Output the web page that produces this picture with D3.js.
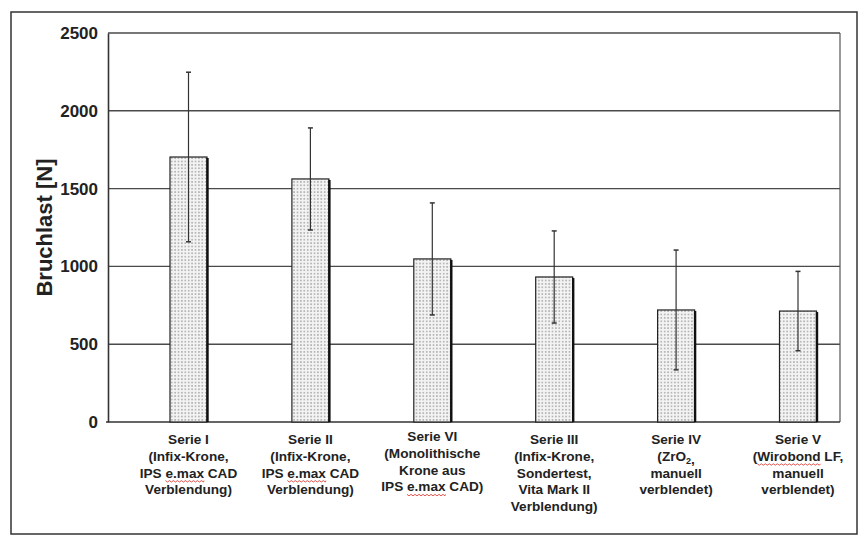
<!DOCTYPE html>
<html>
<head>
<meta charset="utf-8">
<script src="https://cdn.jsdelivr.net/npm/d3@7"></script>
<style>
    body { margin: 0; background: #fff; }
    svg { display: block; font-family: "Liberation Sans", Arial, sans-serif; }
    .tick-label { font-size: 17px; font-weight: bold; fill: #222; }
    .cat-label { font-size: 13.6px; font-weight: bold; fill: #222; }
    .axis-title { font-size: 22px; font-weight: bold; fill: #222; }
</style>
</head>
<body>
<div id="chart"></div>
<script>
// Data
const series = ["Serie I", "Serie II", "Serie VI", "Serie III", "Serie IV", "Serie V"];
const means = [1703, 1562, 1048, 932, 720, 713];
const sds = [545, 328, 360, 296, 385, 255];
const yTicks = [0, 500, 1000, 1500, 2000, 2500];
// Label lines under each bar (markers: ~ spell-check underline, _ subscript)
const catLines = [
    ["Serie I", "(Infix-Krone,", "IPS ~e.max~ CAD", "Verblendung)"],
    ["Serie II", "(Infix-Krone,", "IPS ~e.max~ CAD", "Verblendung)"],
    ["Serie VI", "(Monolithische", "Krone aus", "IPS ~e.max~ CAD)"],
    ["Serie III", "(Infix-Krone,", "Sondertest,", "Vita Mark II", "Verblendung)"],
    ["Serie IV", "(ZrO_2_,", "manuell", "verblendet)"],
    ["Serie V", "(~Wirobond~ LF,", "manuell", "verblendet)"]
];
const yTitle = "Bruchlast [N]";

const W = 862, H = 536;
const plot = {left: 108, right: 840, top: 33, bottom: 422};

const svg = d3.select("#chart").append("svg")
    .attr("width", W)
    .attr("height", H);

// dotted fill
const defs = svg.append("defs");
const pat = defs.append("pattern")
    .attr("id", "dots")
    .attr("patternUnits", "userSpaceOnUse")
    .attr("width", 3.4)
    .attr("height", 3.4);
pat.append("rect").attr("width", 3.4).attr("height", 3.4).attr("fill", "#f3f3f3");
pat.append("circle").attr("cx", 1.7).attr("cy", 1.7).attr("r", 0.7).attr("fill", "#6a6a6a");

// outer frame
svg.append("rect")
    .attr("x", 11).attr("y", 12)
    .attr("width", 846).attr("height", 522)
    .attr("fill", "none")
    .attr("stroke", "#333")
    .attr("stroke-width", 1.5);

const y = d3.scaleLinear()
    .domain([0, 2500])
    .range([plot.bottom, plot.top]);

const x = d3.scalePoint()
    .domain(series)
    .range([188.5, 798]);

const barW = 37;

// grid lines
svg.append("g")
    .selectAll("line")
    .data(yTicks.filter(d => d > 0))
    .join("line")
    .attr("x1", plot.left).attr("x2", plot.right)
    .attr("y1", d => y(d)).attr("y2", d => y(d))
    .attr("stroke", "#4a4a4a")
    .attr("stroke-width", 1.4);

// right edge of plot
svg.append("line")
    .attr("x1", plot.right).attr("x2", plot.right)
    .attr("y1", plot.top).attr("y2", plot.bottom)
    .attr("stroke", "#555").attr("stroke-width", 1.2);

// y axis
const yAxis = d3.axisLeft(y).tickValues(yTicks).tickFormat(d3.format("d")).tickSize(0).tickPadding(10);
const gy = svg.append("g")
    .attr("transform", `translate(${plot.left},0)`)
    .call(yAxis);
gy.select(".domain").attr("stroke", "#333").attr("stroke-width", 1.6);
gy.selectAll("text").attr("class", "tick-label").attr("font-size", null).attr("font-family", null).attr("fill", null);

// x axis line
svg.append("line")
    .attr("x1", plot.left - 2).attr("x2", plot.right)
    .attr("y1", plot.bottom).attr("y2", plot.bottom)
    .attr("stroke", "#333").attr("stroke-width", 1.6);

// bars
const bars = svg.append("g")
    .selectAll("g")
    .data(series.map((s, i) => ({s, mean: means[i], sd: sds[i]})))
    .join("g");

bars.append("rect")
    .attr("x", d => x(d.s) - barW / 2)
    .attr("y", d => y(d.mean))
    .attr("width", barW)
    .attr("height", d => y(0) - y(d.mean))
    .attr("fill", "url(#dots)")
    .attr("stroke", "#222")
    .attr("stroke-width", 1.2);

// thicker shadow edge on the right
bars.append("line")
    .attr("x1", d => x(d.s) + barW / 2 + 0.5)
    .attr("x2", d => x(d.s) + barW / 2 + 0.5)
    .attr("y1", d => y(d.mean) + 1)
    .attr("y2", y(0))
    .attr("stroke", "#111")
    .attr("stroke-width", 2.4);

// error bars
bars.append("line")
    .attr("x1", d => x(d.s)).attr("x2", d => x(d.s))
    .attr("y1", d => y(d.mean + d.sd))
    .attr("y2", d => y(d.mean - d.sd))
    .attr("stroke", "#333").attr("stroke-width", 1.2);

bars.selectAll(".cap")
    .data(d => [d.mean + d.sd, d.mean - d.sd].map(v => ({s: d.s, v})))
    .join("line")
    .attr("class", "cap")
    .attr("x1", d => x(d.s) - 2.5).attr("x2", d => x(d.s) + 2.5)
    .attr("y1", d => y(d.v)).attr("y2", d => y(d.v))
    .attr("stroke", "#333").attr("stroke-width", 1.5);

// category labels
const lineH = 16.8;
const labelGroups = svg.append("g")
    .selectAll("g")
    .data(series.map((s, i) => ({s, lines: catLines[i]})))
    .join("g")
    .attr("transform", d => `translate(${x(d.s)},${d.s === "Serie VI" ? 441 : 444})`);

const labels = labelGroups.append("text")
    .attr("class", "cat-label")
    .attr("text-anchor", "middle");

labels.each(function (d) {
    const t = d3.select(this);
    d.lines.forEach((line, li) => {
        const tl = t.append("tspan")
            .attr("x", 0)
            .attr("y", li * lineH);
        // split on markers
        const parts = line.split(/(~[^~]+~|_[^_]+_)/).filter(p => p !== "");
        parts.forEach(p => {
            if (p.startsWith("~")) {
                tl.append("tspan").attr("class", "spell").text(p.slice(1, -1));
            } else if (p.startsWith("_")) {
                tl.append("tspan").attr("font-size", "9px").attr("dy", 3).text(p.slice(1, -1));
                tl.append("tspan").attr("dy", -3).text("");
            } else {
                tl.append("tspan").text(p);
            }
        });
    });
});

// red spell-check squiggles under flagged words
labelGroups.each(function () {
    const g = d3.select(this);
    g.selectAll(".spell").each(function () {
        const start = this.getStartPositionOfChar(0);
        const len = this.getComputedTextLength();
        const y0 = start.y + 3;
        let dStr = `M${start.x},${y0}`;
        for (let k = 0, xx = start.x; xx < start.x + len; k++) {
            xx += 2;
            dStr += `L${Math.min(xx, start.x + len)},${y0 + (k % 2 === 0 ? 1.4 : 0)}`;
        }
        g.append("path")
            .attr("d", dStr)
            .attr("fill", "none")
            .attr("stroke", "#d8423a")
            .attr("stroke-width", 0.9);
    });
});

// y title
svg.append("text")
    .attr("class", "axis-title")
    .attr("text-anchor", "middle")
    .attr("transform", `translate(52,${(plot.top + plot.bottom) / 2}) rotate(-90)`)
    .text(yTitle);
</script>
</body>
</html>
